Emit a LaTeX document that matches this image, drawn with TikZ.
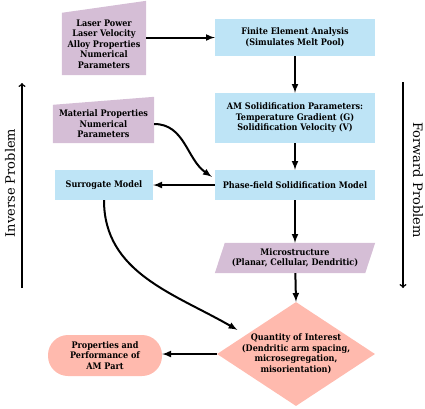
\documentclass[tikz,border=0pt]{standalone}
\usepackage{fontspec}
\setmainfont{DejaVu Serif Condensed}
\newfontfamily\sidefont{DejaVu Serif}
\usepackage{tikz}
\usetikzlibrary{calc, arrows, shapes, backgrounds}
\tikzset{>=latex}
\definecolor{mypurple}{RGB}{213, 190, 214}
\definecolor{myblue}{RGB}{190, 228, 246}
\definecolor{mysalmon}{RGB}{255, 186, 174}

\begin{document}
\begin{tikzpicture}[x = 1pt, y = -1pt,
  every node/.style = {font = \fontsize{9}{10.5}\selectfont\bfseries, align = center, inner sep = 0pt},
  bluebox/.style = {fill = myblue, minimum width = 160pt},
  flow/.style = {->, line width = 2pt},
  side/.style = {-to, line width = 1.5pt},
  sidetext/.style = {font = \fontsize{13}{15}\selectfont\sidefont}]
\useasboundingbox (0,0) rectangle (425,408);

% forward chain
\node[bluebox, minimum height = 37pt] (fea) at (295, 37.5) {Finite Element Analysis\\(Simulates Melt Pool)};
\node[bluebox, minimum height = 50pt] (amsol) at (295, 118) {AM Solidification Parameters:\\Temperature Gradient (G)\\Solidification Velocity (V)};
\node[bluebox, minimum height = 30pt] (pf) at (295, 185) {Phase-field Solidification Model};
\node[minimum width = 150pt, minimum height = 30pt] (micro) at (295, 258) {Microstructure\\(Planar, Cellular, Dendritic)};
\node[diamond, fill = mysalmon, aspect = 1.52, inner sep = -4pt, minimum width = 158pt, minimum height = 104pt] (qoi) at (296, 354) {Quantity of Interest\\(Dendritic arm spacing,\\microsegregation,\\misorientation)};

% inputs and inverse side
\node[minimum width = 84pt, minimum height = 62pt] (laser) at (104, 44) {Laser Power\\Laser Velocity\\Alloy Properties\\Numerical\\Parameters};
\node[minimum width = 101pt, minimum height = 38pt] (matprop) at (103.5, 124) {Material Properties\\Numerical\\Parameters};
\node[fill = myblue, minimum width = 98pt, minimum height = 30pt] (surr) at (104, 185) {Surrogate Model};
\node[fill = mysalmon, rounded corners = 20pt, minimum width = 114pt, minimum height = 41pt] (props) at (105, 355.5) {Properties and\\Performance of\\AM Part};

\begin{scope}[on background layer]
\fill[mypurple] (laser.south west) -- (laser.south east) -- ([yshift = 12pt]laser.north east) -- (laser.north west) -- cycle;
\fill[mypurple] (matprop.south west) -- (matprop.south east) -- ([yshift = 8pt]matprop.north east) -- (matprop.north west) -- cycle;
\fill[mypurple] ([xshift = -5pt]micro.south west) -- ([xshift = -5pt]micro.south east) -- ([xshift = 5pt]micro.north east) -- ([xshift = 5pt]micro.north west) -- cycle;
\end{scope}

\draw[flow] (laser.east |- fea.west) -- (fea.west);
\draw[flow] (fea) -- (amsol);
\draw[flow] (amsol) -- (pf);
\draw[flow] (pf) -- (micro);
\draw[flow] (micro) -- (qoi.north);
\draw[flow] (pf.west) -- (surr.east);
\draw[flow] (qoi.west) -- (qoi.west -| props.east);
\draw[flow] (matprop.east) to[out = 0, in = 145] ([xshift = -3pt, yshift = -7pt]pf.north west);
\draw[flow] (surr.south) to[out = -90, in = 150] ([xshift = -19pt, yshift = -2pt]qoi.north west);

% problem directions
\coordinate (invbot) at (22, 288);
\coordinate (invtop) at (22, 83);
\coordinate (fwdtop) at (403, 82);
\coordinate (fwdbot) at (403, 288);
\draw[side] (invbot) -- (invtop);
\draw[side] (fwdtop) -- (fwdbot);
\node[sidetext, rotate = 90] (inv) at (10, 183) {Inverse Problem};
\node[sidetext, rotate = -90] (fwd) at (418, 180) {Forward Problem};
\end{tikzpicture}
\end{document}
